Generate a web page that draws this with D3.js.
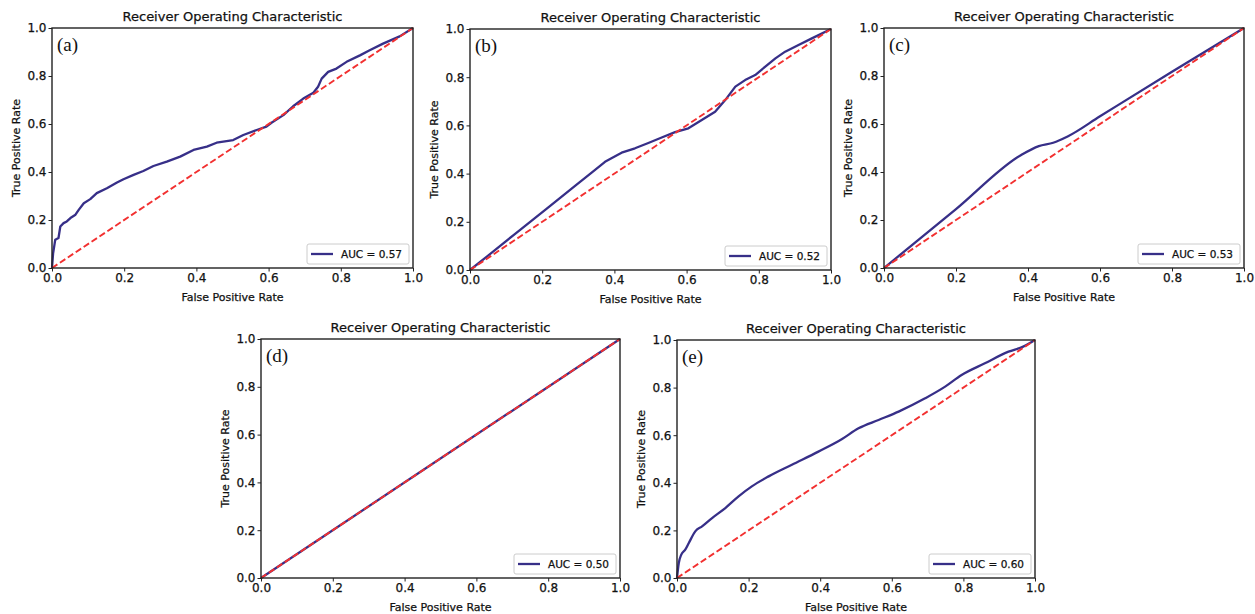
<!DOCTYPE html>
<html><head><meta charset="utf-8">
<script src="https://cdn.jsdelivr.net/npm/d3@7"></script>
<style>
body{margin:0;background:#fff}
svg{display:block}
.sans{font-family:"DejaVu Sans",sans-serif;fill:#111;stroke:#111;stroke-width:0.25px}
</style>
</head><body>
<svg id="chart" width="1255" height="614"></svg>
<script>
// ---------- data ----------
const axisTicks = [0, 0.2, 0.4, 0.6, 0.8, 1.0];
const titleText = "Receiver Operating Characteristic";
const xLabelText = "False Positive Rate";
const yLabelText = "True Positive Rate";
const panelLabels = ["(a)", "(b)", "(c)", "(d)", "(e)"];
const aucLabels = ["AUC = 0.57", "AUC = 0.52", "AUC = 0.53", "AUC = 0.50", "AUC = 0.60"];
const chanceFpr = [0, 1];
const chanceTpr = [0, 1];

const fprA = [0, 0.003, 0.009, 0.018, 0.023, 0.032, 0.041, 0.051, 0.065, 0.074, 0.088, 0.106, 0.124, 0.152, 0.18, 0.198, 0.226, 0.253, 0.281, 0.318, 0.355, 0.392, 0.429, 0.456, 0.502, 0.53, 0.567, 0.594, 0.608, 0.641, 0.668, 0.696, 0.724, 0.737, 0.747, 0.765, 0.788, 0.816, 0.853, 0.88, 0.917, 0.963, 1];
const tprA = [0, 0.06, 0.118, 0.125, 0.173, 0.187, 0.194, 0.208, 0.222, 0.242, 0.27, 0.287, 0.312, 0.332, 0.356, 0.37, 0.388, 0.404, 0.425, 0.443, 0.464, 0.492, 0.506, 0.522, 0.533, 0.554, 0.575, 0.589, 0.605, 0.637, 0.674, 0.706, 0.73, 0.755, 0.789, 0.817, 0.831, 0.859, 0.886, 0.907, 0.935, 0.965, 1];

const fprB = [0, 0.051, 0.125, 0.217, 0.291, 0.337, 0.374, 0.402, 0.42, 0.457, 0.494, 0.531, 0.568, 0.605, 0.642, 0.679, 0.707, 0.735, 0.762, 0.79, 0.818, 0.846, 0.873, 0.91, 0.947, 1];
const tprB = [0, 0.061, 0.15, 0.26, 0.349, 0.404, 0.449, 0.472, 0.487, 0.505, 0.527, 0.55, 0.572, 0.588, 0.622, 0.657, 0.705, 0.761, 0.788, 0.809, 0.844, 0.878, 0.906, 0.934, 0.961, 1];

const fprC = [0, 0.2, 0.38, 0.43, 0.47, 0.51, 0.6, 0.8, 1];
const tprC = [0, 0.245, 0.47, 0.508, 0.522, 0.548, 0.632, 0.818, 1];

const fprD = [0, 1];
const tprD = [0, 1];

const fprE = [0, 0.005, 0.012, 0.023, 0.033, 0.051, 0.07, 0.098, 0.135, 0.172, 0.209, 0.256, 0.321, 0.395, 0.46, 0.507, 0.563, 0.619, 0.693, 0.749, 0.795, 0.86, 0.926, 0.967, 1];
const tprE = [0, 0.063, 0.098, 0.119, 0.147, 0.196, 0.217, 0.252, 0.294, 0.343, 0.385, 0.427, 0.476, 0.531, 0.583, 0.629, 0.664, 0.699, 0.755, 0.804, 0.853, 0.902, 0.951, 0.972, 1];

const rocFpr = [fprA, fprB, fprC, fprD, fprE];
const rocTpr = [tprA, tprB, tprC, tprD, tprE];

// ---------- layout ----------
const boxes = [
  {l: 52,  r: 413,  t: 28,  b: 268},
  {l: 470, r: 831,  t: 29,  b: 270},
  {l: 884, r: 1244, t: 28,  b: 268},
  {l: 261, r: 620,  t: 339, b: 578},
  {l: 677, r: 1035, t: 340, b: 578}
];
const rocColor = "#372f88";
const chanceColor = "#f23030";

const svg = d3.select("#chart");
const fmt = d3.format(".1f");

boxes.forEach((bx, i) => {
  const x = d3.scaleLinear().domain([0, 1]).range([bx.l, bx.r]);
  const y = d3.scaleLinear().domain([0, 1]).range([bx.b, bx.t]);
  const g = svg.append("g");

  const chance = chanceFpr.map((v, k) => [v, chanceTpr[k]]);
  const roc = rocFpr[i].map((v, k) => [v, rocTpr[i][k]]);
  const line = d3.line().x(d => x(d[0])).y(d => y(d[1])).curve(d3.curveMonotoneX);
  const lineLin = d3.line().x(d => x(d[0])).y(d => y(d[1]));

  g.append("path").attr("d", (i === 2 || i === 4) ? line(roc) : lineLin(roc))
    .attr("fill", "none").attr("stroke", rocColor).attr("stroke-width", 2.3)
    .attr("stroke-linejoin", "round");
  g.append("path").attr("d", lineLin(chance))
    .attr("fill", "none").attr("stroke", chanceColor).attr("stroke-width", 1.9)
    .attr("stroke-dasharray", "6.5,3");

  const xa = g.append("g").attr("transform", `translate(0,${bx.b})`)
    .call(d3.axisBottom(x).tickValues(axisTicks).tickFormat(fmt).tickSize(3.5).tickPadding(2));
  const ya = g.append("g").attr("transform", `translate(${bx.l},0)`)
    .call(d3.axisLeft(y).tickValues(axisTicks).tickFormat(fmt).tickSize(3.5).tickPadding(2));
  [xa, ya].forEach(a => {
    a.select(".domain").remove();
    a.selectAll("line").attr("stroke", "#222").attr("stroke-width", 1);
    a.selectAll("text").attr("class", "sans").attr("font-size", 12);
  });

  g.append("rect").attr("x", bx.l).attr("y", bx.t)
    .attr("width", bx.r - bx.l).attr("height", bx.b - bx.t)
    .attr("fill", "none").attr("stroke", "#222").attr("stroke-width", 1.4);

  const cx = (bx.l + bx.r) / 2, cy = (bx.t + bx.b) / 2;
  g.append("text").attr("class", "sans").attr("x", cx).attr("y", bx.t - 7)
    .attr("text-anchor", "middle").attr("font-size", 13).text(titleText);
  g.append("text").attr("class", "sans").attr("x", cx).attr("y", bx.b + 33)
    .attr("text-anchor", "middle").attr("font-size", 11).text(xLabelText);
  g.append("text").attr("class", "sans")
    .attr("transform", `translate(${bx.l - 32},${cy}) rotate(-90)`)
    .attr("text-anchor", "middle").attr("font-size", 11).text(yLabelText);

  g.append("text").attr("x", bx.l + 5).attr("y", bx.t + 23)
    .attr("font-family", "Liberation Serif, Times New Roman, serif").attr("font-size", 19)
    .attr("fill", "#111").text(panelLabels[i]);

  const lw = 102, lh = 20;
  const lx = bx.r - 4 - lw, ly = bx.b - 4 - lh;
  g.append("rect").attr("x", lx).attr("y", ly).attr("width", lw).attr("height", lh)
    .attr("rx", 2).attr("fill", "#fff").attr("stroke", "#ccc").attr("stroke-width", 1);
  g.append("line").attr("x1", lx + 4).attr("x2", lx + 26).attr("y1", ly + lh / 2).attr("y2", ly + lh / 2)
    .attr("stroke", rocColor).attr("stroke-width", 2.3);
  g.append("text").attr("class", "sans").attr("x", lx + 34).attr("y", ly + lh / 2 + 4)
    .attr("font-size", 10.5).text(aucLabels[i]);
});
</script>
</body></html>
